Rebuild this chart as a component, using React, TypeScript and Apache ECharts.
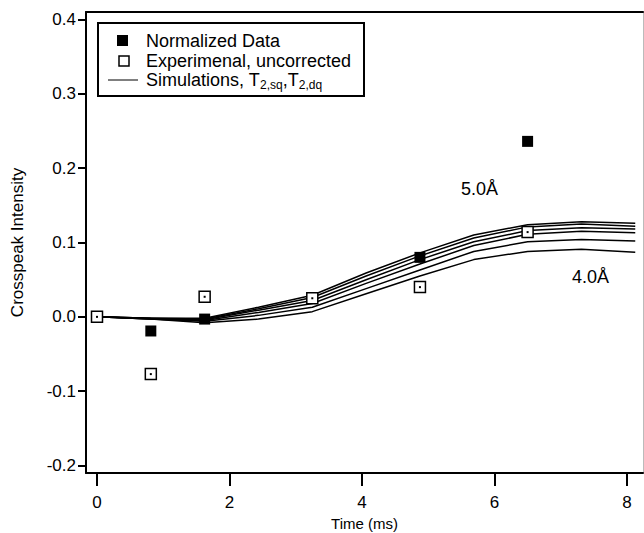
import React, { useEffect, useRef } from "react";
import * as echarts from "echarts";

// Time axis (ms) of the simulated curves
const simTimes = [0, 0.8125, 1.625, 2.4375, 3.25, 4.0625, 4.875, 5.6875, 6.5, 7.3125, 8.125];
// Simulated crosspeak intensity curves (5.0 Å down to 4.0 Å)
const sim50 = [0, -0.002, -0.002, 0.013, 0.029, 0.059, 0.086, 0.110, 0.124, 0.128, 0.126];
const sim48 = [0, -0.002, -0.003, 0.011, 0.026, 0.055, 0.082, 0.106, 0.121, 0.125, 0.122];
const sim46 = [0, -0.002, -0.004, 0.009, 0.022, 0.050, 0.077, 0.101, 0.116, 0.120, 0.118];
const sim44 = [0, -0.003, -0.005, 0.006, 0.018, 0.045, 0.071, 0.096, 0.111, 0.115, 0.113];
const sim42 = [0, -0.003, -0.006, 0.002, 0.013, 0.038, 0.063, 0.088, 0.101, 0.104, 0.102];
const sim40 = [0, -0.003, -0.008, -0.003, 0.007, 0.031, 0.055, 0.077, 0.088, 0.091, 0.087];

// Measured points
const sampleTimes = [0, 0.8125, 1.625, 3.25, 4.875, 6.5];
const normalizedData = [0, -0.019, -0.003, 0.025, 0.080, 0.236];
const experimentalData = [0, -0.077, 0.027, 0.025, 0.040, 0.114];

// Tick labels
const xTicks = [0, 2, 4, 6, 8];
const yTicks = [-0.2, -0.1, 0, 0.1, 0.2, 0.3, 0.4];

const FONT = "Liberation Sans";

export default function App() {
  const ref = useRef<HTMLDivElement>(null);

  useEffect(() => {
    if (!ref.current) return;
    const chart = echarts.init(ref.current, undefined, { renderer: "svg" });
    const simSets = [sim50, sim48, sim46, sim44, sim42, sim40];
    const pair = (xs: number[], ys: number[]) => xs.map((x, i) => [x, ys[i]]);

    const simSeries = simSets.map((s, k) => ({
      type: "line",
      name: "sim" + k,
      data: pair(simTimes, s),
      showSymbol: false,
      symbol: "none",
      lineStyle: { color: "#000", width: 1.5 },
      z: 2,
    }));

    chart.setOption({
      animation: false,
      backgroundColor: "#fff",
      textStyle: { fontFamily: FONT, color: "#000" },
      grid: { left: 86, right: 1, top: 12, bottom: 60, containLabel: false, outerBoundsMode: "none" },
      xAxis: [
        {
          type: "value",
          min: -0.166,
          max: 8.242,
          position: "bottom",
          name: "Time (ms)",
          nameLocation: "middle",
          nameGap: 42,
          nameTextStyle: { fontFamily: FONT, fontSize: 15, color: "#000" },
          axisLine: { show: true, onZero: false, lineStyle: { color: "#000", width: 2 } },
          axisTick: { show: true, inside: false, length: 13, lineStyle: { color: "#000", width: 2 }, customValues: xTicks },
          axisLabel: { color: "#000", fontSize: 17, fontFamily: FONT, margin: 21, customValues: xTicks, formatter: (v: number) => String(v) },
          splitLine: { show: false },
        },
        {
          type: "value",
          min: -0.166,
          max: 8.242,
          position: "top",
          axisLine: { show: true, onZero: false, lineStyle: { color: "#000", width: 2 } },
          axisTick: { show: false },
          axisLabel: { show: false },
          splitLine: { show: false },
        },
      ],
      yAxis: [
        {
          type: "value",
          min: -0.21,
          max: 0.41,
          position: "left",
          name: "Crosspeak Intensity",
          nameLocation: "middle",
          nameGap: 60,
          nameRotate: 90,
          nameTextStyle: { fontFamily: FONT, fontSize: 17, color: "#000" },
          axisLine: { show: true, onZero: false, lineStyle: { color: "#000", width: 2 } },
          axisTick: { show: true, inside: false, length: 8, lineStyle: { color: "#000", width: 2 }, customValues: yTicks },
          axisLabel: { color: "#000", fontSize: 17, fontFamily: FONT, margin: 10, customValues: yTicks, formatter: (v: number) => v.toFixed(1) },
          splitLine: { show: false },
        },
        {
          type: "value",
          min: -0.21,
          max: 0.41,
          position: "right",
          axisLine: { show: true, onZero: false, lineStyle: { color: "#bbb", width: 1 } },
          axisTick: { show: false },
          axisLabel: { show: false },
          splitLine: { show: false },
        },
      ],
      series: [
        ...simSeries,
        {
          type: "scatter",
          name: "Normalized Data",
          data: pair(sampleTimes, normalizedData),
          symbol: "rect",
          symbolSize: 11,
          itemStyle: { color: "#000", opacity: 1 },
          z: 3,
        },
        {
          type: "scatter",
          name: "Experimenal, uncorrected",
          data: pair(sampleTimes, experimentalData),
          symbol: "rect",
          symbolSize: 11,
          itemStyle: { color: "#fff", borderColor: "#000", borderWidth: 1.5, opacity: 1 },
          z: 4,
        },
        {
          type: "scatter",
          name: "centre",
          data: pair(sampleTimes, experimentalData),
          symbol: "rect",
          symbolSize: 2,
          itemStyle: { color: "#000", opacity: 1 },
          z: 5,
        },
      ],
      graphic: [
        {
          type: "group",
          left: 97,
          top: 22,
          children: [
            { type: "rect", shape: { x: 0, y: 0, width: 266, height: 73 }, style: { fill: "#fff", stroke: "#000", lineWidth: 2 } },
            { type: "rect", shape: { x: 19, y: 12, width: 11, height: 11 }, style: { fill: "#000" } },
            { type: "text", x: 48, y: 18, style: { text: "Normalized Data", fontFamily: FONT, fontSize: 18, fill: "#000", verticalAlign: "middle" } },
            { type: "rect", shape: { x: 21, y: 33, width: 10, height: 10 }, style: { fill: "#fff", stroke: "#000", lineWidth: 1.5 } },
            { type: "text", x: 48, y: 38, style: { text: "Experimenal, uncorrected", fontFamily: FONT, fontSize: 18, fill: "#000", verticalAlign: "middle" } },
            { type: "line", shape: { x1: 10, y1: 57, x2: 40, y2: 57 }, style: { stroke: "#000", lineWidth: 1 } },
            {
              type: "text",
              x: 48,
              y: 57,
              style: {
                text: "Simulations, T{s|2,sq},T{s|2,dq}",
                fontFamily: FONT,
                fontSize: 18,
                fill: "#000",
                verticalAlign: "middle",
                rich: { s: { fontSize: 12, fontFamily: FONT, fill: "#000", padding: [9, 0, 0, 0] } },
              },
            },
          ],
        },
        { type: "text", x: 461, y: 189, style: { text: "5.0Å", fontFamily: FONT, fontSize: 18, fill: "#000", verticalAlign: "middle" } },
        { type: "text", x: 572, y: 277, style: { text: "4.0Å", fontFamily: FONT, fontSize: 18, fill: "#000", verticalAlign: "middle" } },
      ],
    });
    return () => chart.dispose();
  }, []);

  return <div ref={ref} style={{ width: 644, height: 533, position: "absolute", left: 0, top: 0 }} />;
}
